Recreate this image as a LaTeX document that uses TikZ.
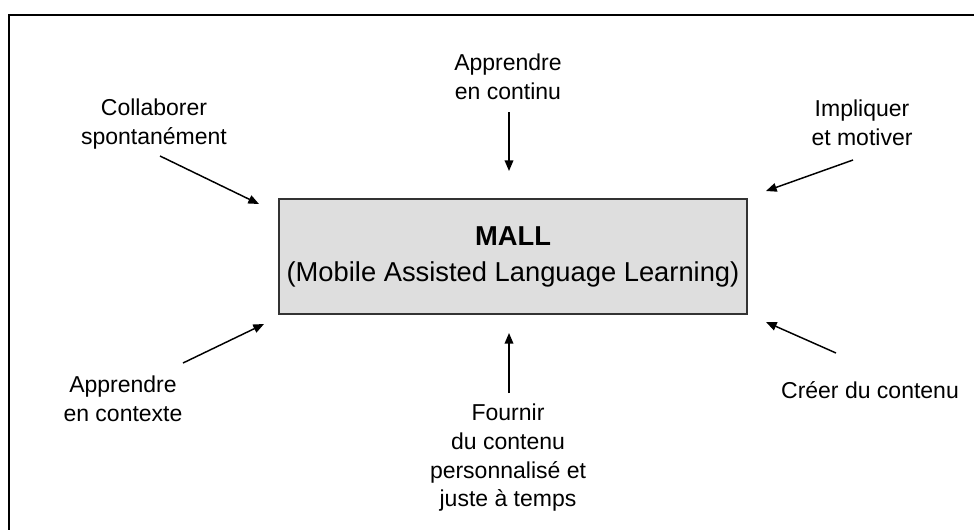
\documentclass[tikz,border=0pt]{standalone}
\usepackage{fontspec}
\setmainfont{Liberation Sans}
\usetikzlibrary{arrows.meta}
\definecolor{boxfill}{HTML}{DEDEDE}
\definecolor{boxline}{HTML}{333333}
\tikzset{
  lbl/.style={align=center, font=\fontsize{17.25}{21.5}\selectfont, inner sep=0pt},
  arr/.style={line width=1.1pt, -{Triangle[length=8pt,width=6.5pt]}},
  mallbox/.style={draw=boxline, fill=boxfill, line width=0.9pt, minimum width=351pt, minimum height=86.25pt, inner sep=0pt, align=center, font=\fontsize{20.5}{27}\selectfont}
}
\begin{document}
\begin{tikzpicture}[x=0.75pt,y=-0.75pt]
\clip (0,0) rectangle (974,529);
\useasboundingbox (0,0) rectangle (974,529);
\draw[line width=1.5pt] (9,15) rectangle (1000,560);
\node[mallbox] (mall) at (513,256.5) {\textbf{MALL}\\(Mobile Assisted Language Learning)};
% labels
\node[lbl] (top) at (508,77) {Apprendre\\en continu};
\node[lbl] (tl) at (154,124) {Collaborer\\spontanément};
\node[lbl] (tr) at (862,123) {Impliquer\\et motiver};
\node[lbl] (bl) at (123,399) {Apprendre\\en contexte};
\node[lbl] (br) at (870,390) {Créer du contenu};
\node[lbl] (bot) at (508,458) {Fournir\\du contenu\\personnalisé et\\juste à temps};
% arrow endpoints
\coordinate (ts) at (509,112); \coordinate (te) at (509,171);
\coordinate (tls) at (160,156); \coordinate (tle) at (259,204);
\coordinate (trs) at (853,160); \coordinate (tre) at (766,191);
\coordinate (bls) at (183,363); \coordinate (ble) at (264,324);
\coordinate (brs) at (836,353); \coordinate (bre) at (766,322);
\coordinate (bs) at (509,393); \coordinate (be) at (509,333);
\draw[arr] (ts) -- (te);
\draw[arr] (tls) -- (tle);
\draw[arr] (trs) -- (tre);
\draw[arr] (bls) -- (ble);
\draw[arr] (brs) -- (bre);
\draw[arr] (bs) -- (be);
\end{tikzpicture}
\end{document}
